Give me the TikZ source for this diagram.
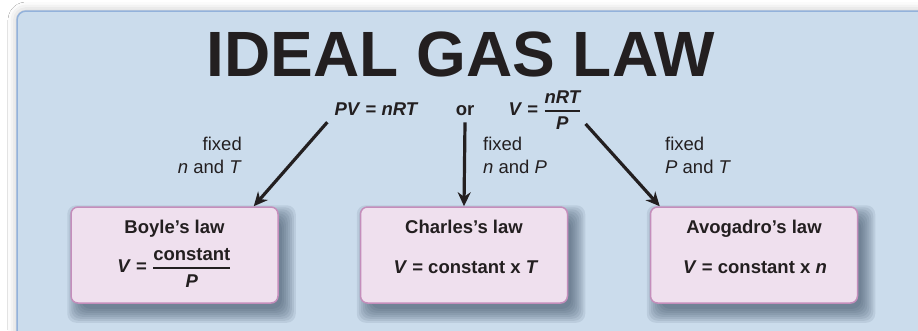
\documentclass[tikz,border=0pt]{standalone}
\usepackage{amsmath}
\usepackage{fontspec}
\setmainfont{Liberation Sans}
\usepackage{tikz}
\usetikzlibrary{arrows.meta,positioning,shadows.blur,backgrounds}
\usepackage{xcolor}

\definecolor{panelblue}{HTML}{CBDCEC}
\definecolor{panelline}{HTML}{93B2DB}
\definecolor{lawpink}{HTML}{EFE0EE}
\definecolor{lawline}{HTML}{C48EBB}
\definecolor{ink}{HTML}{231F20}
\definecolor{shadowslate}{HTML}{33465C}

\begin{document}
\begin{tikzpicture}[
    x=1pt, y=-1pt,
    law/.style={draw=lawline, line width=1.5pt, fill=lawpink, rounded corners=7pt,
        minimum width=207pt, minimum height=96pt, inner sep=0pt},
    lawshadow/.style={fill=shadowslate, opacity=0.1, rounded corners=9pt},
    txt/.style={inner sep=0pt, anchor=base, text=ink, font=\fontsize{18.5}{23}\selectfont},
    bold/.style={txt, font=\fontsize{18.5}{23}\selectfont\bfseries},
    title/.style={inner sep=0pt, anchor=base, text=ink, font=\fontsize{64}{64}\selectfont\bfseries},
    arrow/.style={-{Stealth[length=14pt, width=13pt, inset=4.5pt]}, line width=3.2pt, draw=ink}
]
\clip (0,0) rectangle (918,330);

% Title and the law itself
\node[title] (title) at (461,76) {IDEAL GAS LAW};
\node[bold] (pv) at (376.5,115) {\textit{PV} = \textit{nRT}};
\node[bold] (or) at (465,115) {or};
\node[bold] (vfrac) at (545,115) {\textit{V} = $\genfrac{}{}{1.8pt}{0}{\text{\bfseries\itshape nRT}}{\text{\bfseries\itshape P}}$};

% Three special cases
\node[law] (boyle) at (174.5,255) {};
\node[law] (charles) at (464,255) {};
\node[law] (avogadro) at (754,255) {};

\node[bold] (boylename) at (174.5,233) {Boyle’s law};
\node[bold] (boyleeq) at (174.5,272) {\textit{V} = $\genfrac{}{}{2pt}{0}{\text{\bfseries constant}}{\text{\bfseries\itshape P}}$};
\node[bold] (charlesname) at (464,233) {Charles’s law};
\node[bold] (charleseq) at (466,273) {\textit{V} = constant x \textit{T}};
\node[bold] (avogadroname) at (754,233) {Avogadro’s law};
\node[bold] (avogadroeq) at (755,273) {\textit{V} = constant x \textit{n}};

% Arrows
\draw[arrow] ([shift={(-7,7)}]pv.south west) -- ([xshift=-25pt]boyle.north east);
\draw[arrow] ([yshift=-7pt]or.south) -- (charles.north);
\draw[arrow] ([shift={(4,-6)}]vfrac.south east) -- ([xshift=10pt]avogadro.north west);

% What is held fixed
\node[txt, anchor=north east, align=right] (fixnt) at (242,137) {fixed\\\textit{n} and \textit{T}};
\node[txt, anchor=north west, align=left] (fixnp) at (483,137) {fixed\\\textit{n} and \textit{P}};
\node[txt, anchor=north west, align=left] (fixpt) at (665,137) {fixed\\\textit{P} and \textit{T}};

% Background panel and soft shadows
\begin{scope}[on background layer]
\fill[white] (0,0) rectangle (918,330);
\draw[fill=panelblue, draw=panelline, line width=1.5pt, rounded corners=9pt,
    blur shadow={shadow xshift=0pt, shadow yshift=0pt, shadow blur radius=9pt, shadow opacity=25}]
    (17,11) rectangle (960,370);
\foreach \s in {-4,-2,...,10}
  \foreach \b in {boyle,charles,avogadro}
    \fill[lawshadow] ([shift={(7-\s,9-\s)}]\b.north west) rectangle ([shift={(7+\s,9+\s)}]\b.south east);
\end{scope}

\end{tikzpicture}
\end{document}
